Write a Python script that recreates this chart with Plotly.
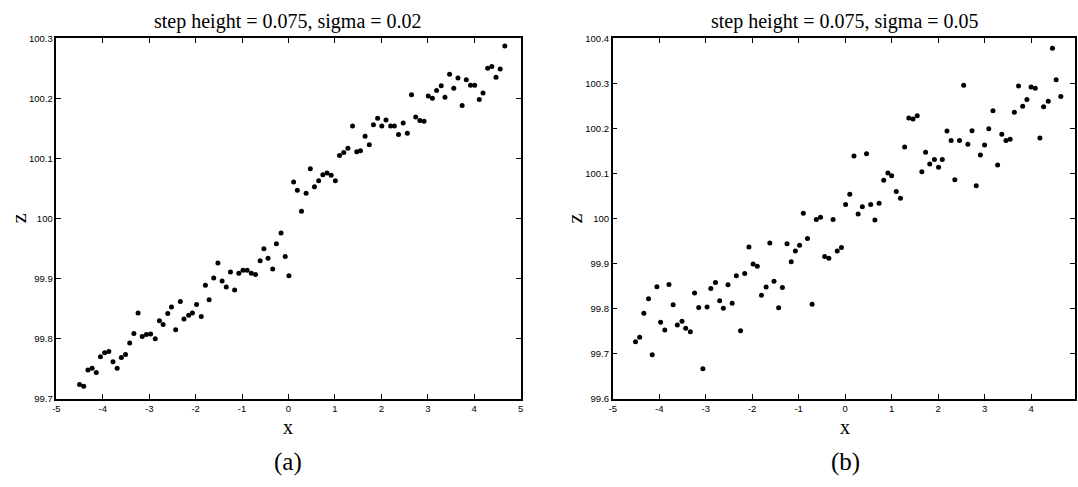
import plotly.graph_objects as go

# Panel (a): step height = 0.075, sigma = 0.02
x_a = [-4.50, -4.41, -4.32, -4.23, -4.14, -4.05, -3.96, -3.87, -3.78, -3.69,
       -3.60, -3.51, -3.42, -3.33, -3.24, -3.15, -3.06, -2.97, -2.87, -2.78,
       -2.70, -2.60, -2.52, -2.43, -2.33, -2.25, -2.15, -2.07, -1.98, -1.88,
       -1.79, -1.71, -1.61, -1.52, -1.43, -1.34, -1.25, -1.16, -1.07, -0.98,
       -0.89, -0.80, -0.71, -0.61, -0.53, -0.44, -0.34, -0.26, -0.16, -0.07,
       0.01, 0.11, 0.19, 0.28, 0.38, 0.47, 0.56, 0.65, 0.74, 0.83,
       0.92, 1.01, 1.10, 1.19, 1.28, 1.38, 1.47, 1.55, 1.65, 1.74,
       1.83, 1.92, 2.01, 2.10, 2.20, 2.28, 2.37, 2.47, 2.56, 2.65,
       2.74, 2.83, 2.92, 3.01, 3.10, 3.19, 3.29, 3.37, 3.47, 3.56,
       3.65, 3.74, 3.83, 3.92, 4.01, 4.11, 4.19, 4.29, 4.38, 4.47,
       4.56, 4.66]
z_a = [99.724, 99.721, 99.748, 99.751, 99.744, 99.770, 99.777, 99.779, 99.762, 99.751,
       99.769, 99.774, 99.793, 99.809, 99.843, 99.804, 99.807, 99.808, 99.800, 99.830,
       99.824, 99.842, 99.853, 99.815, 99.862, 99.833, 99.839, 99.843, 99.857, 99.837,
       99.889, 99.865, 99.901, 99.926, 99.896, 99.886, 99.911, 99.881, 99.909, 99.914,
       99.914, 99.909, 99.907, 99.930, 99.950, 99.934, 99.916, 99.958, 99.976, 99.937,
       99.905, 100.061, 100.047, 100.012, 100.042, 100.083, 100.053, 100.063, 100.073, 100.076,
       100.072, 100.063, 100.105, 100.110, 100.117, 100.154, 100.111, 100.113, 100.137, 100.123,
       100.156, 100.167, 100.154, 100.164, 100.154, 100.154, 100.140, 100.159, 100.142, 100.206,
       100.169, 100.163, 100.162, 100.204, 100.200, 100.213, 100.221, 100.202, 100.240, 100.217,
       100.234, 100.188, 100.231, 100.222, 100.222, 100.198, 100.209, 100.250, 100.253, 100.235,
       100.249, 100.287]

# Panel (b): step height = 0.075, sigma = 0.05
x_b = [-4.51, -4.42, -4.33, -4.23, -4.15, -4.05, -3.97, -3.88, -3.79, -3.70,
       -3.61, -3.51, -3.43, -3.33, -3.24, -3.15, -3.06, -2.97, -2.89, -2.79,
       -2.70, -2.62, -2.52, -2.43, -2.34, -2.25, -2.16, -2.07, -1.98, -1.89,
       -1.80, -1.70, -1.62, -1.53, -1.43, -1.35, -1.25, -1.16, -1.07, -0.98,
       -0.90, -0.81, -0.71, -0.62, -0.53, -0.44, -0.35, -0.26, -0.17, -0.08,
       0.01, 0.10, 0.19, 0.28, 0.37, 0.46, 0.55, 0.64, 0.73, 0.83,
       0.92, 1.00, 1.10, 1.19, 1.28, 1.37, 1.46, 1.55, 1.65, 1.73,
       1.82, 1.92, 2.01, 2.09, 2.19, 2.28, 2.36, 2.46, 2.55, 2.64,
       2.73, 2.82, 2.91, 3.00, 3.09, 3.18, 3.28, 3.37, 3.46, 3.55,
       3.64, 3.73, 3.82, 3.91, 4.00, 4.09, 4.19, 4.27, 4.37, 4.46,
       4.54, 4.64]
z_b = [99.727, 99.737, 99.790, 99.822, 99.698, 99.849, 99.770, 99.753, 99.854, 99.809,
       99.764, 99.772, 99.757, 99.749, 99.835, 99.803, 99.667, 99.804, 99.845, 99.858,
       99.818, 99.801, 99.853, 99.812, 99.873, 99.751, 99.878, 99.937, 99.899, 99.894,
       99.830, 99.848, 99.946, 99.861, 99.802, 99.847, 99.944, 99.904, 99.928, 99.941,
       100.012, 99.956, 99.810, 99.998, 100.003, 99.916, 99.912, 99.998, 99.928, 99.936,
       100.031, 100.054, 100.139, 100.010, 100.026, 100.144, 100.031, 99.997, 100.034, 100.085,
       100.101, 100.095, 100.060, 100.045, 100.159, 100.223, 100.221, 100.228, 100.104, 100.147,
       100.121, 100.131, 100.114, 100.131, 100.194, 100.173, 100.086, 100.173, 100.296, 100.165,
       100.195, 100.073, 100.141, 100.163, 100.199, 100.239, 100.119, 100.187, 100.173, 100.176,
       100.236, 100.294, 100.249, 100.264, 100.292, 100.289, 100.179, 100.248, 100.260, 100.378,
       100.308, 100.271]

# Tick labels
x_ticks = [-5, -4, -3, -2, -1, 0, 1, 2, 3, 4, 5]
x_ticktext = ["-5", "-4", "-3", "-2", "-1", "0", "1", "2", "3", "4", "5"]
z_ticks_a = [99.7, 99.8, 99.9, 100.0, 100.1, 100.2, 100.3]
z_ticktext_a = ["99.7", "99.8", "99.9", "100", "100.1", "100.2", "100.3"]
z_ticks_b = [99.6, 99.7, 99.8, 99.9, 100.0, 100.1, 100.2, 100.3, 100.4]
z_ticktext_b = ["99.6", "99.7", "99.8", "99.9", "100", "100.1", "100.2", "100.3", "100.4"]

titles = ["step height = 0.075, sigma = 0.02", "step height = 0.075, sigma = 0.05"]
panel_tags = ["(a)", "(b)"]

W, H = 1078, 487
marker = dict(color="black", size=5)

fig = go.Figure()
fig.add_trace(go.Scatter(x=x_a, y=z_a, mode="markers", marker=marker,
                         xaxis="x", yaxis="y", showlegend=False))
fig.add_trace(go.Scatter(x=x_b, y=z_b, mode="markers", marker=marker,
                         xaxis="x2", yaxis="y2", showlegend=False))

tick_font = dict(family="Liberation Sans, Arial, sans-serif", size=9.5, color="black")
axis_common = dict(showline=True, linecolor="black", linewidth=1.5, mirror="ticks",
                   ticks="inside", ticklen=5, tickwidth=1, tickcolor="black",
                   showgrid=False, zeroline=False, tickfont=tick_font)

y_dom = [1 - 402 / H, 1 - 33 / H]
fig.update_layout(
    width=W, height=H,
    margin=dict(l=0, r=0, t=0, b=0),
    paper_bgcolor="white", plot_bgcolor="white",
    xaxis=dict(domain=[52.7 / W, 520 / W], range=[-5, 5], anchor="y",
               tickvals=x_ticks, ticktext=x_ticktext, **axis_common),
    yaxis=dict(domain=y_dom, range=[99.7, 100.3], anchor="x",
               tickvals=z_ticks_a, ticktext=z_ticktext_a, **axis_common),
    xaxis2=dict(domain=[612.7 / W, 1.0], range=[-5, 4.945], anchor="y2",
                tickvals=x_ticks, ticktext=x_ticktext, **axis_common),
    yaxis2=dict(domain=y_dom, range=[99.6, 100.4], anchor="x2",
                tickvals=z_ticks_b, ticktext=z_ticktext_b, **axis_common),
)

serif = "Liberation Serif, Times New Roman, serif"
ann = []
for i, (xref, xpix_axis) in enumerate([("x", 52.7), ("x2", 612.7)]):
    ann.append(dict(text=titles[i], xref=xref, x=0, yref="paper", y=1 - 16 / H,
                    showarrow=False, xanchor="center", yanchor="middle",
                    font=dict(family=serif, size=20, color="black")))
    ann.append(dict(text="x", xref=xref, x=0, yref="paper", y=1 - 431 / H,
                    showarrow=False, xanchor="center", yanchor="middle",
                    font=dict(family=serif, size=20, color="black")))
    ann.append(dict(text=panel_tags[i], xref=xref, x=0, yref="paper", y=1 - 467 / H,
                    showarrow=False, xanchor="center", yanchor="middle",
                    font=dict(family=serif, size=25, color="black")))
    ann.append(dict(text="z", xref="paper", x=(xpix_axis - 38.5) / W, yref="paper",
                    y=1 - 217 / H, showarrow=False, textangle=-90,
                    xanchor="center", yanchor="middle",
                    font=dict(family=serif, size=22, color="black")))
fig.update_layout(annotations=ann)

fig.write_html("out.html")
